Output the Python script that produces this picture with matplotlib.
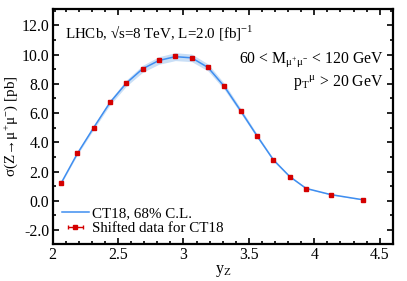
#!/usr/bin/env python

# Matplotlib for plotting
import matplotlib
matplotlib.use("Agg")
import matplotlib.pyplot as plt
from matplotlib.ticker import MultipleLocator
import numpy as np

# Bin centres in Z rapidity (LHCb 8 TeV binning)
y_z = [2.0625, 2.1875, 2.3125, 2.4375, 2.5625, 2.6875, 2.8125, 2.9375, 3.0625,
       3.1875, 3.3125, 3.4375, 3.5625, 3.6875, 3.8125, 3.9375, 4.125, 4.375]
# Shifted data for CT18 [pb]
data_vals = [1.22, 3.25, 5.00, 6.75, 8.07, 9.02, 9.61, 9.88, 9.80,
             9.13, 7.82, 6.16, 4.45, 2.80, 1.66, 0.84, 0.43, 0.07]
data_errx = [0.0] * len(y_z)
# CT18 prediction and 68% C.L. half-width [pb]
theory_vals = [1.18, 3.22, 5.00, 6.72, 8.05, 9.03, 9.60, 9.86, 9.78,
               9.12, 7.82, 6.15, 4.44, 2.80, 1.66, 0.85, 0.43, 0.07]
theory_err = [0.05, 0.09, 0.13, 0.17, 0.21, 0.24, 0.26, 0.27, 0.26,
              0.24, 0.21, 0.17, 0.13, 0.09, 0.06, 0.04, 0.03, 0.02]

# Times-like fonts
plt.rcParams["font.family"] = ["Liberation Serif", "DejaVu Serif"]
plt.rcParams["mathtext.fontset"] = "stix"
plt.rcParams["font.size"] = 10.8

fig = plt.figure(figsize=(4.07, 2.81), dpi=100)
ax = fig.add_axes([0.1295, 0.1317, 0.8355, 0.8363])

th = np.array(theory_vals)
te = np.array(theory_err)
ax.fill_between(y_z, th - te, th + te, color="#c9dff6", lw=0, zorder=1)
ax.plot(y_z, th, color="#3f8ef0", lw=1.1, zorder=2, label="CT18, 68% C.L.")
ax.errorbar(y_z, data_vals, xerr=data_errx, fmt="s", ms=3.0, color="#d40000",
            ecolor="#d40000", elinewidth=1.0, capsize=1.5, zorder=3,
            label="Shifted data for CT18")

# Axis limits and ticks
ax.set_xlim(2.0, 4.6)
ax.set_ylim(-2.95, 13.12)
ax.xaxis.set_major_locator(MultipleLocator(0.5))
ax.xaxis.set_minor_locator(MultipleLocator(0.1))
ax.yaxis.set_major_locator(MultipleLocator(2))
ax.yaxis.set_minor_locator(MultipleLocator(1))
ax.xaxis.set_major_formatter(plt.FuncFormatter(lambda v, p: f"{v:g}"))
ax.yaxis.set_major_formatter(plt.FuncFormatter(lambda v, p: f"{v:.1f}"))
ax.tick_params(which="both", direction="in", top=True, right=True, width=1.2,
               labelsize=11.3)
ax.tick_params(which="major", length=4.5, pad=2.5)
ax.tick_params(which="minor", length=2.5)
for s in ax.spines.values():
    s.set_linewidth(1.6)

ax.set_xlabel(r"$\mathregular{y_Z}$", labelpad=0, fontsize=11.5)
ax.set_ylabel(r"$\mathregular{\sigma(Z\!\rightarrow\!\mu^{+}\mu^{-})}$ [pb]", labelpad=1)

# Annotations
ax.text(0.035, 0.90, r"LHCb, √s=8 TeV, L=2.0 [fb]$^{\mathregular{-1}}$",
        transform=ax.transAxes, ha="left", va="center")
ax.text(0.972, 0.783, r"60 < M$_{\mathregular{\mu^{+}\mu^{-}}}$ < 120 GeV",
        transform=ax.transAxes, ha="right", va="center", fontsize=11.3)
ax.text(0.972, 0.685, r"p$_{\mathregular{T}}$$^{\mathregular{\mu}}$ > 20 GeV",
        transform=ax.transAxes, ha="right", va="center", fontsize=11.3)

ax.legend(loc="lower left", frameon=False, handlelength=1.8, handletextpad=0.2,
          labelspacing=0.1, borderaxespad=0.25, borderpad=0.35)

fig.savefig("out.png", dpi=100)
plt.close(fig)
